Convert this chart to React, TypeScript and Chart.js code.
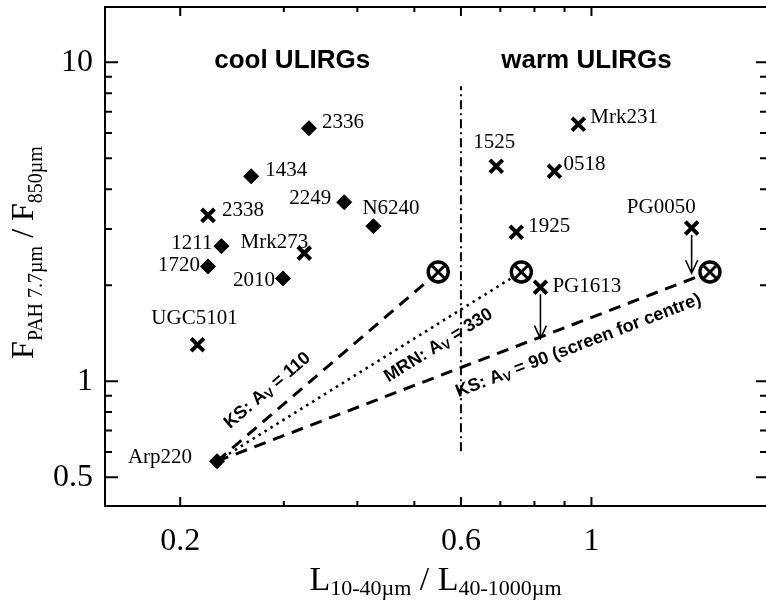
import React, { useEffect, useRef } from "react";
import { Chart, registerables } from "chart.js";
Chart.register(...registerables);

// ---------- data ----------
const coolNames = ["2336", "1434", "2249", "N6240", "1211", "1720", "2010", "Arp220"];
const coolX = [0.331, 0.264, 0.38, 0.426, 0.235, 0.223, 0.299, 0.231];
const coolY = [6.21, 4.39, 3.64, 3.06, 2.65, 2.29, 2.1, 0.561];

const crossNames = ["2338", "Mrk273", "UGC5101", "Mrk231", "1525", "0518", "1925", "PG0050", "PG1613"];
const crossX = [0.223, 0.325, 0.214, 0.95, 0.689, 0.865, 0.745, 1.48, 0.819];
const crossY = [3.31, 2.52, 1.3, 6.39, 4.72, 4.55, 2.93, 3.02, 1.97];

// extinction model end points (from Arp220)
const modelStartX = 0.231;
const modelStartY = 0.561;
const modelNames = ["KS: A|V| = 110", "MRN: A|V| = 330", "KS: A|V| = 90 (screen for centre)"];
const modelX = [0.549, 0.76, 1.59];
const modelY = [2.2, 2.2, 2.2];
// anchor (start of text) in data units
const modelLabelX = [0.243, 0.4517, 0.594];
const modelLabelY = [0.707, 0.99, 0.891];

// divider between cool and warm
const dividerX = [0.6, 0.6];
const dividerY = [0.603, 8.41];

// arrows (x, from y, to y)
const arrowX = [1.48, 0.819];
const arrowFromY = [3.02, 1.97];
const arrowToY = [2.18, 1.36];

// region titles
const regionNames = ["cool ULIRGs", "warm ULIRGs"];
const regionX = [0.31, 0.981];
const regionY = [10.1, 10.1];

// ticks
const xTickLabels = [0.2, 0.6, 1];
const xMinorTicks = [0.3, 0.4, 0.5, 0.7, 0.8, 0.9];
const yTickLabels = [0.5, 1, 10];
const yMinorTicks = [0.6, 0.7, 0.8, 0.9, 2, 3, 4, 5, 6, 7, 8, 9];

// ---------- label placement (pixel offsets) ----------
const coolLabelDx = [13, 14, -13, -11, -9, -8, -8, -25];
const coolLabelDy = [-6, -6, -4, -18, -3, -1, 2, -4];
const coolLabelAlign = ["left", "left", "right", "left", "right", "right", "right", "right"];
const crossLabelDx = [14, 4, -3, 12, -2, 9, 12, 4, 12];
const crossLabelDy = [-5, -11, -26, -7, -24, -7, -6, -21, -1];
const crossLabelAlign = ["left", "right", "center", "left", "center", "left", "left", "right", "left"];

const SERIF = '"Liberation Serif", "Times New Roman", serif';
const SANS = '"Liberation Sans", Arial, sans-serif';

type Part = { t: string; font: string; dy: number };

function drawParts(ctx: CanvasRenderingContext2D, parts: Part[], x: number, y: number, align: string) {
  let total = 0;
  for (const p of parts) {
    ctx.font = p.font;
    total += ctx.measureText(p.t).width;
  }
  let cx = align === "center" ? x - total / 2 : x;
  ctx.textAlign = "left";
  ctx.textBaseline = "alphabetic";
  for (const p of parts) {
    ctx.font = p.font;
    ctx.fillText(p.t, cx, y + p.dy);
    cx += ctx.measureText(p.t).width;
  }
}

function modelParts(label: string): Part[] {
  const [a, sub, b] = label.split("|");
  return [
    { t: a, font: `bold 18px ${SANS}`, dy: 0 },
    { t: sub, font: `bold 13px ${SANS}`, dy: 3 },
    { t: b, font: `bold 18px ${SANS}`, dy: 0 },
  ];
}

const noPad = (s: any) => {
  s.paddingTop = 0;
  s.paddingBottom = 0;
  s.paddingLeft = 0;
  s.paddingRight = 0;
};

const decorPlugin = {
  id: "decor",
  afterDatasetsDraw(chart: any) {
    const ctx: CanvasRenderingContext2D = chart.ctx;
    const xs = chart.scales.x;
    const ys = chart.scales.y;
    const area = chart.chartArea;
    ctx.save();
    ctx.fillStyle = "#000";
    ctx.strokeStyle = "#000";

    // point labels
    ctx.font = `21px ${SERIF}`;
    ctx.textBaseline = "middle";
    coolNames.forEach((n, i) => {
      ctx.textAlign = coolLabelAlign[i] as CanvasTextAlign;
      ctx.fillText(n, xs.getPixelForValue(coolX[i]) + coolLabelDx[i], ys.getPixelForValue(coolY[i]) + coolLabelDy[i]);
    });
    crossNames.forEach((n, i) => {
      ctx.textAlign = crossLabelAlign[i] as CanvasTextAlign;
      ctx.fillText(n, xs.getPixelForValue(crossX[i]) + crossLabelDx[i], ys.getPixelForValue(crossY[i]) + crossLabelDy[i]);
    });

    // region titles
    ctx.font = `bold 26px ${SANS}`;
    ctx.textAlign = "center";
    ctx.textBaseline = "middle";
    regionNames.forEach((n, i) => {
      ctx.fillText(n, xs.getPixelForValue(regionX[i]), ys.getPixelForValue(regionY[i]));
    });

    // model labels
    const sx = xs.getPixelForValue(modelStartX);
    const sy = ys.getPixelForValue(modelStartY);
    modelNames.forEach((n, i) => {
      const ex = xs.getPixelForValue(modelX[i]);
      const ey = ys.getPixelForValue(modelY[i]);
      const ang = Math.atan2(ey - sy, ex - sx);
      ctx.save();
      ctx.translate(xs.getPixelForValue(modelLabelX[i]), ys.getPixelForValue(modelLabelY[i]));
      ctx.rotate(ang);
      drawParts(ctx, modelParts(n), 0, 0, "left");
      ctx.restore();
    });

    // arrows
    ctx.lineWidth = 1.6;
    arrowX.forEach((ax, i) => {
      const px = xs.getPixelForValue(ax);
      const y0 = ys.getPixelForValue(arrowFromY[i]) + 7;
      const y1 = ys.getPixelForValue(arrowToY[i]);
      ctx.beginPath();
      ctx.moveTo(px, y0);
      ctx.lineTo(px, y1);
      ctx.moveTo(px - 6, y1 - 13);
      ctx.lineTo(px, y1);
      ctx.lineTo(px + 6, y1 - 13);
      ctx.stroke();
    });

    // frame (top + tick marks)
    ctx.lineWidth = 2;
    ctx.beginPath();
    ctx.moveTo(area.left, area.top);
    ctx.lineTo(area.right, area.top);
    const tickX = (v: number, len: number) => {
      const p = xs.getPixelForValue(v);
      ctx.moveTo(p, area.bottom);
      ctx.lineTo(p, area.bottom - len);
      ctx.moveTo(p, area.top);
      ctx.lineTo(p, area.top + len);
    };
    xTickLabels.forEach((v) => tickX(v, 9));
    xMinorTicks.forEach((v) => tickX(v, 5));
    const tickY = (v: number, lenL: number, lenR: number) => {
      const p = ys.getPixelForValue(v);
      ctx.moveTo(area.left, p);
      ctx.lineTo(area.left + lenL, p);
      ctx.moveTo(area.right, p);
      ctx.lineTo(area.right - lenR, p);
    };
    yTickLabels.forEach((v) => tickY(v, 13, 10));
    yMinorTicks.forEach((v) => tickY(v, 7, 6));
    ctx.stroke();

    ctx.restore();
  },
  afterDraw(chart: any) {
    const ctx: CanvasRenderingContext2D = chart.ctx;
    const area = chart.chartArea;
    ctx.save();
    ctx.fillStyle = "#000";
    // x title
    drawParts(
      ctx,
      [
        { t: "L", font: `34px ${SERIF}`, dy: 0 },
        { t: "10-40µm", font: `22px ${SERIF}`, dy: 5 },
        { t: " / L", font: `34px ${SERIF}`, dy: 0 },
        { t: "40-1000µm", font: `22px ${SERIF}`, dy: 5 },
      ],
      (area.left + area.right) / 2,
      590,
      "center"
    );
    // y title
    ctx.translate(33, (area.top + area.bottom) / 2 - 4);
    ctx.rotate(-Math.PI / 2);
    drawParts(
      ctx,
      [
        { t: "F", font: `32px ${SERIF}`, dy: 0 },
        { t: "PAH 7.7µm", font: `20px ${SERIF}`, dy: 9 },
        { t: " / F", font: `32px ${SERIF}`, dy: 0 },
        { t: "850µm", font: `20px ${SERIF}`, dy: 9 },
      ],
      0,
      0,
      "center"
    );
    ctx.restore();
  },
};

export default function App() {
  const ref = useRef<HTMLCanvasElement>(null);
  useEffect(() => {
    const canvas = ref.current!;
    const pts = (xa: number[], ya: number[]) => xa.map((x, i) => ({ x, y: ya[i] }));
    const modelLines = modelX.map((mx, i) => ({
      type: "line" as const,
      data: [
        { x: modelStartX, y: modelStartY },
        { x: mx, y: modelY[i] },
      ],
      showLine: true,
      borderColor: "#000",
      borderWidth: i === 1 ? 2.6 : 3,
      borderDash: i === 1 ? [2.5, 4.5] : [12, 8],
      pointRadius: 0,
      fill: false,
      order: 5,
    }));
    const chart = new Chart(canvas, {
      type: "scatter",
      data: {
        datasets: [
          {
            data: pts(coolX, coolY),
            pointStyle: "rectRot",
            pointRadius: 7.5,
            backgroundColor: "#000",
            borderColor: "#000",
            borderWidth: 1,
            order: 1,
          },
          {
            data: pts(crossX, crossY),
            pointStyle: "crossRot",
            pointRadius: 9,
            borderColor: "#000",
            borderWidth: 4,
            order: 1,
          },
          {
            data: pts(modelX, modelY),
            pointStyle: "crossRot",
            pointRadius: 8.5,
            borderColor: "#000",
            borderWidth: 3,
            order: 1,
          },
          {
            data: pts(modelX, modelY),
            pointStyle: "circle",
            pointRadius: 10,
            backgroundColor: "#fff",
            borderColor: "#000",
            borderWidth: 3.4,
            order: 2,
          },
          ...modelLines,
          {
            type: "line" as const,
            data: pts(dividerX, dividerY),
            showLine: true,
            borderColor: "#000",
            borderWidth: 2,
            borderDash: [9, 4, 2, 4],
            pointRadius: 0,
            fill: false,
            order: 5,
          },
        ] as any,
      },
      options: {
        responsive: false,
        maintainAspectRatio: false,
        animation: false,
        devicePixelRatio: 1,
        layout: { autoPadding: false, padding: { top: 7, right: 0, left: 0, bottom: 0 } },
        plugins: { legend: { display: false }, tooltip: { enabled: false } },
        scales: {
          x: {
            type: "logarithmic",
            min: 0.149,
            max: 1.98,
            afterFit: (s: any) => {
              s.height = 102;
              noPad(s);
            },
            afterBuildTicks: (s: any) => {
              s.ticks = xTickLabels.map((v) => ({ value: v }));
            },
            grid: { display: false, drawTicks: false },
            border: { display: true, color: "#000", width: 2 },
            ticks: {
              autoSkip: false,
              maxRotation: 0,
              padding: 16,
              color: "#000",
              font: { family: SERIF, size: 32 },
              callback: (v: any) => String(v),
            },
          },
          y: {
            type: "logarithmic",
            min: 0.406,
            max: 14.9,
            afterFit: (s: any) => {
              s.width = 105;
              noPad(s);
            },
            afterBuildTicks: (s: any) => {
              s.ticks = yTickLabels.map((v) => ({ value: v }));
            },
            grid: { display: false, drawTicks: false },
            border: { display: true, color: "#000", width: 2 },
            ticks: {
              autoSkip: false,
              padding: 12,
              color: "#000",
              font: { family: SERIF, size: 32 },
              callback: (v: any) => String(v),
            },
          },
        },
      } as any,
      plugins: [decorPlugin],
    });
    return () => chart.destroy();
  }, []);
  return (
    <div style={{ position: "absolute", left: 0, top: 0, width: 766, height: 608, background: "#fff" }}>
      <canvas ref={ref} width={766} height={608} style={{ display: "block", width: 766, height: 608 }} />
    </div>
  );
}
